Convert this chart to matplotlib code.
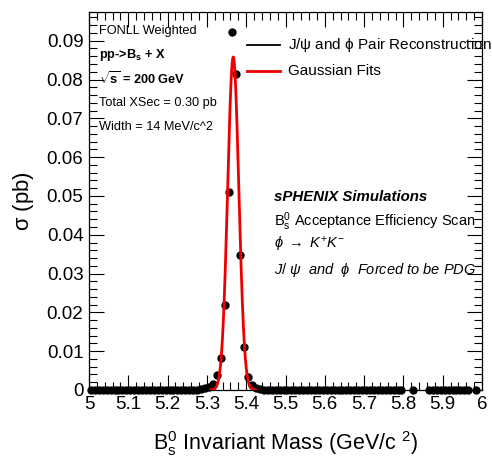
import numpy as np
import matplotlib
matplotlib.use("Agg")
import matplotlib.pyplot as plt
from matplotlib.ticker import MultipleLocator
from matplotlib.lines import Line2D

plt.rcParams['font.family'] = ['Liberation Sans', 'DejaVu Sans']
plt.rcParams['mathtext.fontset'] = 'custom'
plt.rcParams['mathtext.rm'] = 'Liberation Sans'
plt.rcParams['mathtext.it'] = 'Liberation Sans:italic'
plt.rcParams['mathtext.bf'] = 'Liberation Sans:bold'

# histogram: 100 bins of 10 MeV between 5 and 6 GeV, nan = empty bin (not drawn)
bin_lo, bin_hi, n_bins = 5.0, 6.0, 100
nan = float('nan')
xsec_pb = ([0.0] * 28
           + [0.0002, 0.0004, 0.0008, 0.0016, 0.0039, 0.0083, 0.0219, 0.0509,
              0.0922, 0.0815, 0.0348, 0.0112, 0.0034, 0.0012, 0.0005, 0.0002]
           + [0.0] * 36
           + [nan, nan, 0.0, nan, nan, nan]
           + [0.0] * 11
           + [nan, 0.0, nan])

# gaussian fit
fit_amp = 0.0858
fit_mean = 5.367
fit_sigma = 0.0142

left_notes = ["FONLL Weighted", r"pp->B$_\mathbf{s}$ + X",
              r"$\mathbf{\sqrt{s}}$ = 200 GeV", "Total XSec = 0.30 pb",
              "Width = 14 MeV/c^2"]

W, H = 492, 457
fig = plt.figure(figsize=(W / 100, H / 100), dpi=100)
ax = fig.add_axes([89 / W, 1 - 390 / H, (482 - 89) / W, (390 - 12) / H])

edges = np.linspace(bin_lo, bin_hi, n_bins + 1)
centers = 0.5 * (edges[:-1] + edges[1:])
ax.plot(centers, xsec_pb, 'o', color='black', ms=5, clip_on=False, zorder=3)

xf = np.linspace(fit_mean - 4 * fit_sigma, fit_mean + 4 * fit_sigma, 300)
yf = fit_amp * np.exp(-0.5 * ((xf - fit_mean) / fit_sigma) ** 2)
ax.plot(xf, yf, color='#ee0000', lw=2.0, zorder=4)

ax.set_xlim(bin_lo, bin_hi)
ax.set_ylim(0, 0.0974)
ax.xaxis.set_minor_locator(MultipleLocator(0.02))
ax.yaxis.set_minor_locator(MultipleLocator(0.002))
ax.set_xticks(np.round(np.arange(5.0, 6.01, 0.1), 1))
ax.set_xticklabels(['5', '5.1', '5.2', '5.3', '5.4', '5.5', '5.6', '5.7', '5.8', '5.9', '6'])
ax.set_yticks(np.round(np.arange(0, 0.091, 0.01), 2))
ax.set_yticklabels(['0'] + ['%.2f' % v for v in np.arange(0.01, 0.091, 0.01)])
ax.tick_params(which='both', direction='in', top=True, right=True, labelsize=13.5, width=0.8)
ax.tick_params(which='major', length=11, pad=4)
ax.tick_params(which='minor', length=6)
for s in ax.spines.values():
    s.set_linewidth(0.9)

ax.set_xlabel(r"$\mathregular{B_s^0}$ Invariant Mass (GeV/c $^{2}$)", fontsize=15.5, labelpad=12)
ax.set_ylabel(r"$\mathregular{\sigma}$ (pb)", fontsize=15.8, labelpad=8)

for i, t in enumerate(left_notes):
    y = [31, 55, 79, 103, 127][i]
    fig.text(99 / W, 1 - y / H, t, fontsize=9.2, va='center', ha='left',
             fontweight='bold' if i in (1, 2) else 'normal')

# legend
fig.add_artist(Line2D([247 / W, 280 / W], [1 - 45 / H] * 2, color='black', lw=1.3))
fig.text(288 / W, 1 - 45 / H, r"J/$\mathregular{\psi}$ and $\mathregular{\phi}$ Pair Reconstruction",
         fontsize=11, va='center', ha='left')
fig.add_artist(Line2D([247 / W, 280 / W], [1 - 71 / H] * 2, color='#ee0000', lw=2.0))
fig.text(288 / W, 1 - 71 / H, "Gaussian Fits", fontsize=11, va='center', ha='left')

# right notes
fig.text(274 / W, 1 - 197 / H, "sPHENIX Simulations", fontsize=10.8, va='center',
         fontweight='bold', style='italic')
fig.text(274 / W, 1 - 222 / H, r"$\mathregular{B_s^0}$ Acceptance Efficiency Scan", fontsize=10.5, va='center')
fig.text(274 / W, 1 - 245 / H, r"$\phi\ \rightarrow\ K^{+}K^{-}$", fontsize=10.5, va='center')
fig.text(274 / W, 1 - 270 / H, r"$J/\ \psi$  and  $\phi$  Forced to be PDG", fontsize=10.5,
         va='center', style='italic')

fig.savefig("out.png", dpi=100)
